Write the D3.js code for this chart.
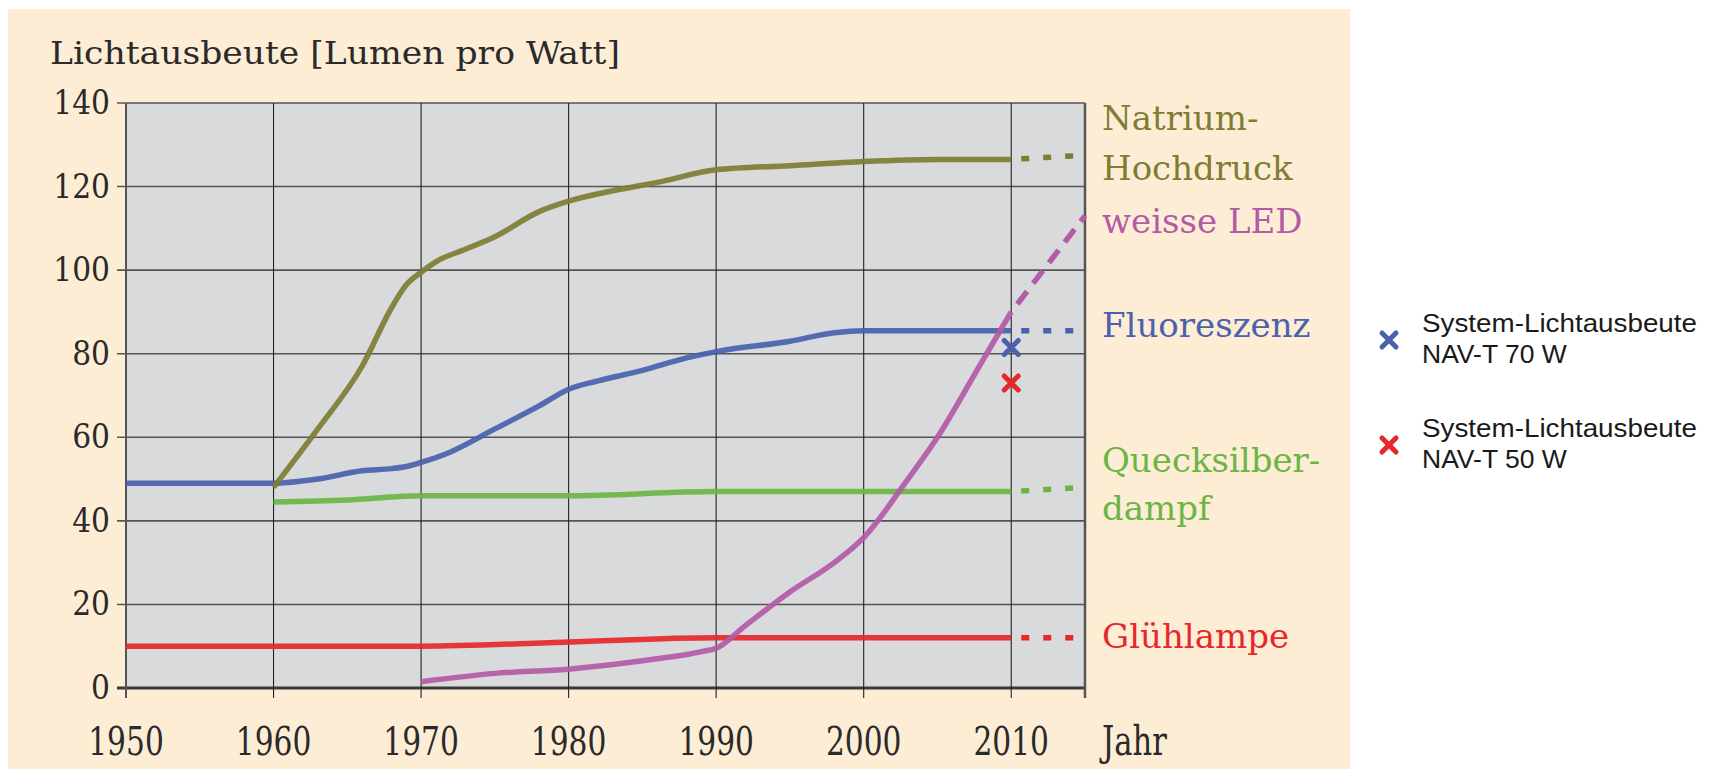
<!DOCTYPE html>
<html>
<head>
<meta charset="utf-8">
<script src="https://cdn.jsdelivr.net/npm/d3@7"></script>
<style>
  body { margin: 0; background: #fff; }
  svg { display: block; }
</style>
</head>
<body>
<svg width="1711" height="771"></svg>
<script>
// values: [year, lumen per watt]
const natrium = [[1960,48],[1963,62],[1966,77],[1968,91],[1969,96.5],[1970,99.5],[1971,102],[1973,105],[1975,108],[1978,114],[1980,116.5],[1983,119],[1986,121],[1990,124],[1995,125],[2000,126],[2005,126.5],[2010,126.5]];
const natriumDash = [[2010,126.5],[2015,127.5]];
const fluor = [[1950,49],[1960,49],[1963,50],[1966,52],[1968,52.5],[1969,53],[1970,54],[1972,56.5],[1975,62],[1978,67.5],[1980,71.5],[1982,73.5],[1985,76],[1988,79],[1990,80.5],[1995,83],[1998,85],[2000,85.5],[2010,85.5]];
const fluorDash = [[2010,85.5],[2015,85.5]];
const queck = [[1960,44.5],[1965,45],[1970,46],[1980,46],[1990,47],[2000,47],[2010,47]];
const queckDash = [[2010,47],[2015,48]];
const gluh = [[1950,10],[1960,10],[1970,10],[1980,11],[1990,12],[2000,12],[2010,12]];
const gluhDash = [[2010,12],[2015,12]];
const led = [[1970,1.5],[1975,3.5],[1980,4.5],[1985,6.5],[1987,7.5],[1988,8],[1989,8.7],[1990,9.5],[1992,15],[1995,23],[1998,30],[2000,36],[2003,50],[2005,60],[2008,78],[2010,90]];
const ledDash = [[2010,90],[2015,113]];
const systemPoints = [[2010,81.5,"NAV-T 70 W"],[2010,73,"NAV-T 50 W"]];

const xTicks = [1950,1960,1970,1980,1990,2000,2010];
const yTicks = [0,20,40,60,80,100,120,140];

const colors = {natrium:"#7f7d33", fluor:"#4a62ad", queck:"#6bb545", gluh:"#e6282b", led:"#b35ba7"};

const svg = d3.select("svg");
const margin = {top: 103, left: 126, right: 1085, bottom: 688};

const x = d3.scaleLinear().domain([1950, 2015]).range([margin.left, margin.right]);
const y = d3.scaleLinear().domain([0, 140]).range([margin.bottom, margin.top]);

const serif = "'DejaVu Serif', serif";
const serifC = "'DejaVu Serif Condensed', 'DejaVu Serif', serif";

// peach panel
svg.append("rect").attr("x", 8).attr("y", 9).attr("width", 1342).attr("height", 760).attr("fill", "#fdedd5");

// plot area
svg.append("rect")
  .attr("x", x(1950)).attr("y", y(140))
  .attr("width", x(2015) - x(1950)).attr("height", y(0) - y(140))
  .attr("fill", "#d9dadc");

// grid
const grid = svg.append("g");
grid.selectAll(".hg").data(yTicks).join("line")
  .attr("x1", x(1950) - 9).attr("x2", x(2015))
  .attr("y1", d => y(d)).attr("y2", d => y(d))
  .attr("stroke", d => d === 0 ? "#3a3a3a" : "#555")
  .attr("stroke-width", d => d === 0 ? 3 : 1.6);
grid.selectAll(".vg").data(xTicks.concat([2015])).join("line")
  .attr("x1", d => x(d)).attr("x2", d => x(d))
  .attr("y1", y(140)).attr("y2", y(0) + 10)
  .attr("stroke", d => (d === 1950 || d === 2015) ? "#555" : "#222")
  .attr("stroke-width", d => d === 1950 ? 2 : d === 2015 ? 2.5 : 1.1);

// tick labels
svg.append("g").selectAll("text").data(yTicks).join("text")
  .attr("x", 110).attr("y", d => y(d) + 11)
  .attr("text-anchor", "end")
  .attr("font-family", serifC).attr("font-size", 33).attr("fill", "#2a2a2a")
  .text(d => d);

svg.append("g").selectAll("text").data(xTicks).join("text")
  .attr("transform", d => `translate(${x(d)},755) scale(1,1.2)`)
  .attr("text-anchor", "middle")
  .attr("font-family", serifC).attr("font-size", 33).attr("fill", "#2a2a2a")
  .text(d => d);

svg.append("text")
  .attr("transform", "translate(1102,755) scale(1,1.2)")
  .attr("font-family", serifC).attr("font-size", 34).attr("fill", "#2a2a2a")
  .text("Jahr");

svg.append("text")
  .attr("x", 50).attr("y", 64)
  .attr("font-family", serifC).attr("font-size", 31).attr("fill", "#2a2a2a")
  .attr("textLength", 570).attr("lengthAdjust", "spacingAndGlyphs")
  .text("Lichtausbeute [Lumen pro Watt]");

// lines
const line = d3.line().x(d => x(d[0])).y(d => y(d[1])).curve(d3.curveMonotoneX);
const series = [
  {solid: gluh, dash: gluhDash, c: colors.gluh, da: "8 14"},
  {solid: queck, dash: queckDash, c: colors.queck, da: "8 14"},
  {solid: fluor, dash: fluorDash, c: colors.fluor, da: "8 14"},
  {solid: natrium, dash: natriumDash, c: colors.natrium, da: "8 14"},
  {solid: led, dash: ledDash, c: colors.led, da: "16 10"}
];
const lg = svg.append("g");
series.forEach(s => {
  lg.append("path").attr("d", line(s.solid))
    .attr("fill", "none").attr("stroke", s.c).attr("stroke-width", 5.5)
    .attr("stroke-opacity", 0.92).attr("stroke-linejoin", "round");
  lg.append("path").attr("d", line(s.dash))
    .attr("fill", "none").attr("stroke", s.c).attr("stroke-width", 5.5)
    .attr("stroke-dasharray", s.da).attr("stroke-dashoffset", -10);
});

// x markers
function cross(g, cx, cy, c) {
  const r = 7;
  g.append("path")
    .attr("d", `M${cx - r},${cy - r}L${cx + r},${cy + r}M${cx + r},${cy - r}L${cx - r},${cy + r}`)
    .attr("stroke", c).attr("stroke-width", 5).attr("stroke-linecap", "round");
}
const mg = svg.append("g");
cross(mg, x(systemPoints[0][0]), y(systemPoints[0][1]), colors.fluor);
cross(mg, x(systemPoints[1][0]), y(systemPoints[1][1]), colors.gluh);

// series labels
const labels = [
  {t: "Natrium-", y: 130, c: colors.natrium},
  {t: "Hochdruck", y: 180, c: colors.natrium},
  {t: "weisse LED", y: 233, c: colors.led},
  {t: "Fluoreszenz", y: 337, c: colors.fluor},
  {t: "Quecksilber-", y: 472, c: colors.queck},
  {t: "dampf", y: 520, c: colors.queck},
  {t: "Glühlampe", y: 648, c: colors.gluh}
];
svg.append("g").selectAll("text").data(labels).join("text")
  .attr("x", 1102).attr("y", d => d.y)
  .attr("font-family", serif).attr("font-size", 34).attr("fill", d => d.c)
  .text(d => d.t);

// legend
const legend = svg.append("g");
[[colors.fluor, 340, systemPoints[0][2]], [colors.gluh, 445, systemPoints[1][2]]].forEach(([c, cy, name]) => {
  cross(legend, 1389, cy, c);
  legend.append("text").attr("x", 1422).attr("y", cy - 8)
    .attr("font-family", "'Liberation Sans', Arial, sans-serif").attr("font-size", 26.5).attr("fill", "#1a1a1a")
    .attr("textLength", 275).attr("lengthAdjust", "spacingAndGlyphs")
    .text("System-Lichtausbeute");
  legend.append("text").attr("x", 1422).attr("y", cy + 23)
    .attr("font-family", "'Liberation Sans', Arial, sans-serif").attr("font-size", 26.5).attr("fill", "#1a1a1a")
    .text(name);
});
</script>
</body>
</html>
